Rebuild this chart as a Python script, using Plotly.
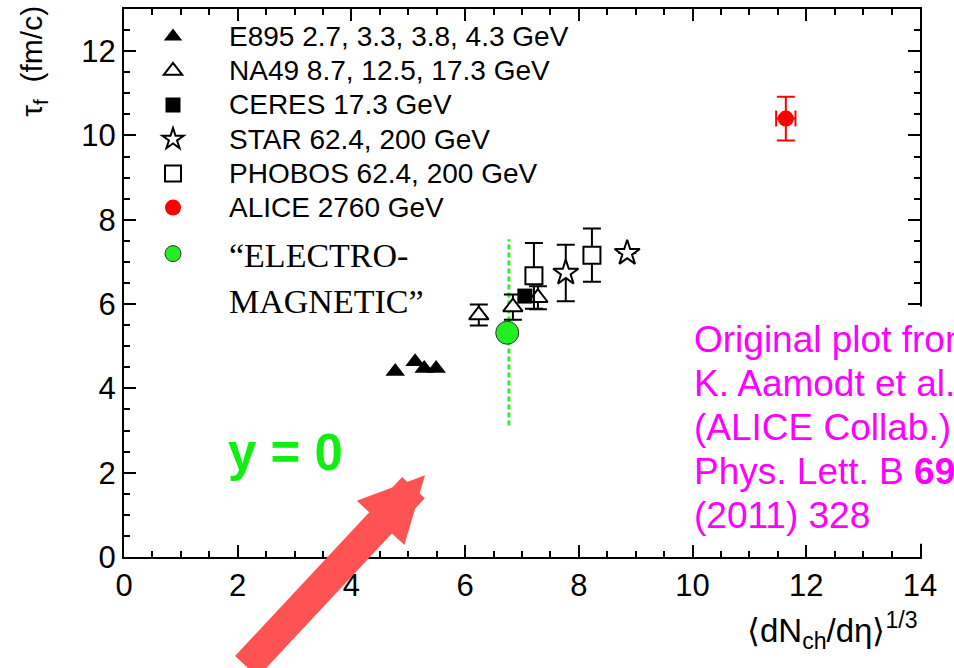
import plotly.graph_objects as go

# ---------------- data ----------------
e895_x = [4.77, 5.12, 5.28, 5.49]
e895_y = [4.40, 4.63, 4.47, 4.47]

na49_x = [6.24, 6.84, 7.28]
na49_y = [5.74, 5.93, 6.15]
na49_err = [0.25, 0.30, 0.27]

ceres_x = [7.05]
ceres_y = [6.19]

star_x = [7.77, 8.85]
star_y = [6.74, 7.21]
star_err = [0.67, 0.0]

phobos_x = [7.21, 8.23]
phobos_y = [6.67, 7.16]
phobos_err = [0.78, 0.63]

alice_x = [11.64]
alice_y = [10.40]
alice_yerr = [0.52]
alice_xerr = [0.17]

em_x = [6.74]
em_y = [5.32]
em_line_x = [6.77, 6.77]
em_line_y = [3.12, 7.54]

x_ticks = [0, 2, 4, 6, 8, 10, 12, 14]
y_ticks = [0, 2, 4, 6, 8, 10, 12]

names = [
    "E895 2.7, 3.3, 3.8, 4.3 GeV",
    "NA49 8.7, 12.5, 17.3 GeV",
    "CERES 17.3 GeV",
    "STAR 62.4, 200 GeV",
    "PHOBOS 62.4, 200 GeV",
    "ALICE 2760 GeV",
]
em_name_lines = ["\u201cELECTRO-", "MAGNETIC\u201d"]

citation_lines = ["Original plot from", "K. Aamodt et al.", "(ALICE Collab.)",
                  "Phys. Lett. B <b>696</b>", "(2011) 328"]

GREEN = "#22ee22"
SANS = "Liberation Sans, Arial, sans-serif"
SERIF = "'Liberation Serif', serif"


def big(s):
    return '<span style="font-size:28px">' + s + '</span>'


def serif(s):
    return '<span style="font-family:' + SERIF + ';font-size:34px">' + s + '</span>'


fig = go.Figure()

# green dashed vertical line
fig.add_trace(go.Scatter(x=em_line_x, y=em_line_y, mode="lines",
                         line=dict(color="#33ee33", width=3, dash="5px,3px"),
                         showlegend=False, hoverinfo="skip"))


def eb(arr, w=9):
    return dict(type="data", array=arr, color="black", thickness=2, width=w, visible=True)


fig.add_trace(go.Scatter(x=e895_x, y=e895_y, mode="markers", name=big(names[0]),
                         marker=dict(symbol="triangle-up", size=17, color="black")))
fig.add_trace(go.Scatter(x=na49_x, y=na49_y, mode="markers", name=big(names[1]),
                         error_y=eb(na49_err),
                         marker=dict(symbol="triangle-up", size=17, color="white",
                                     line=dict(color="black", width=2))))
fig.add_trace(go.Scatter(x=ceres_x, y=ceres_y, mode="markers", name=big(names[2]),
                         marker=dict(symbol="square", size=15, color="black")))
fig.add_trace(go.Scatter(x=star_x, y=star_y, mode="markers", name=big(names[3]),
                         error_y=eb(star_err),
                         marker=dict(symbol="star", size=19, color="white",
                                     line=dict(color="black", width=2))))
fig.add_trace(go.Scatter(x=phobos_x, y=phobos_y, mode="markers", name=big(names[4]),
                         error_y=eb(phobos_err),
                         marker=dict(symbol="square", size=17, color="white",
                                     line=dict(color="black", width=2))))
fig.add_trace(go.Scatter(x=alice_x, y=alice_y, mode="markers", name=big(names[5]),
                         error_y=dict(type="data", array=alice_yerr, color="red", thickness=2, width=9),
                         error_x=dict(type="data", array=alice_xerr, color="red", thickness=2, width=8),
                         marker=dict(symbol="circle", size=16, color="red")))
fig.add_trace(go.Scatter(x=em_x, y=em_y, mode="markers",
                         name=serif(em_name_lines[0]) + "<br>" + serif(em_name_lines[1]),
                         legend="legend2",
                         marker=dict(symbol="circle", size=23, color=GREEN,
                                     line=dict(color="#333333", width=1))))

axis_common = dict(
    showline=True, linecolor="black", linewidth=2, mirror="ticks",
    ticks="inside", ticklen=12, tickwidth=2, tickcolor="black",
    showgrid=False, zeroline=False,
    tickfont=dict(family=SANS, size=31, color="black"),
)

fig.update_xaxes(range=[0, 14], tickmode="array", tickvals=x_ticks,
                 minor=dict(dtick=0.5, ticks="inside", ticklen=6, tickwidth=2, tickcolor="black"),
                 **axis_common)
fig.update_yaxes(range=[0, 13], tickmode="array", tickvals=y_ticks,
                 minor=dict(dtick=0.5, ticks="inside", ticklen=6, tickwidth=2, tickcolor="black"),
                 **axis_common)

# white box hiding the right frame behind the citation text
fig.add_shape(type="rect", xref="paper", yref="paper",
              x0=0.711, x1=1.06, y0=0.024, y1=0.457,
              fillcolor="white", line=dict(width=0), layer="above")

annotations = []
for i, line in enumerate(citation_lines):
    center_px = 339 + 44 * i
    annotations.append(dict(text=line, xref="paper", yref="paper",
                            x=(692 - 124) / 796, y=(557 - center_px) / 550,
                            xanchor="left", yanchor="middle", showarrow=False,
                            font=dict(family=SANS, size=37, color="#ff00ff")))

annotations += [
    dict(text="<b>y = 0</b>", xref="paper", yref="paper", x=0.203, y=0.191,
         xanchor="center", yanchor="middle", showarrow=False,
         font=dict(family=SANS, size=51, color="#11ee11")),
    dict(text="\u27e8dN<sub>ch</sub>/d\u03b7\u27e9<sup>1/3</sup>", xref="paper", yref="paper",
         x=1.0, y=-0.135, xanchor="right", yanchor="middle", showarrow=False,
         font=dict(family=SANS, size=33, color="black")),
    dict(text="\u03c4<sub>f</sub>  (fm/c)", xref="paper", yref="paper",
         x=-0.114, y=1.009, xanchor="center", yanchor="top", textangle=-90,
         showarrow=False, font=dict(family=SANS, size=30, color="black")),
    dict(text="", xref="paper", yref="paper",
         x=(425 - 124) / 796, y=(557 - 475) / 550,
         ax=-180, ay=210, axref="pixel", ayref="pixel",
         showarrow=True, arrowhead=2, arrowsize=0.42, arrowwidth=31,
         arrowcolor="#ff5353"),
]

fig.update_layout(
    width=954, height=668,
    margin=dict(l=124, r=34, t=7, b=111),
    paper_bgcolor="white", plot_bgcolor="white",
    showlegend=True,
    legend=dict(x=(117 - 124) / 796, y=0.990, xanchor="left", yanchor="top",
                bgcolor="rgba(0,0,0,0)", borderwidth=0,
                font=dict(family=SANS, size=24, color="black"),
                itemwidth=102, traceorder="normal", itemclick=False),
    legend2=dict(x=(117 - 124) / 796, y=0.607, xanchor="left", yanchor="top",
                 bgcolor="rgba(0,0,0,0)", borderwidth=0,
                 font=dict(family=SANS, size=35, color="black"),
                 itemwidth=102, valign="top", itemclick=False),
    annotations=annotations,
)

fig.write_html("out.html")
